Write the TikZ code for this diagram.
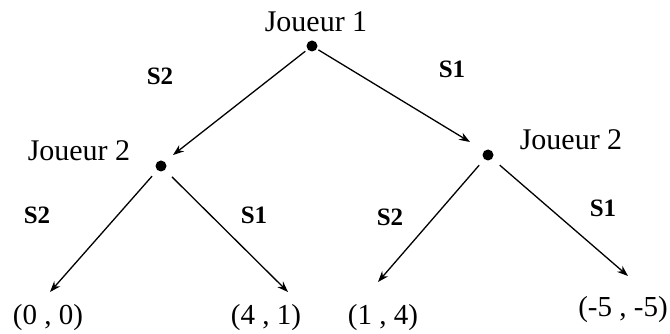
\documentclass[tikz,border=0pt]{standalone}
\usepackage{fontspec}
\setmainfont{Liberation Serif}
\usetikzlibrary{arrows.meta}
\begin{document}
\begin{tikzpicture}[x=1pt,y=-1pt,
  dot/.style={circle,fill=black,inner sep=0pt,minimum size=11pt,outer sep=0pt},
  player/.style={inner sep=0pt,font=\fontsize{30}{34}\selectfont},
  payoff/.style={inner sep=0pt,font=\fontsize{29}{33}\selectfont},
  strat/.style={inner sep=0pt,font=\fontsize{25}{29}\selectfont\bfseries},
  arr/.style={line width=1.3pt,-{Stealth[length=11pt,width=8pt]}}]
\useasboundingbox (0,0) rectangle (670,334);
% players
\node[dot] (r) at (312,46) {};
\node[dot] (a) at (161,166) {};
\node[dot] (b) at (488,155) {};
\node[player] (j1) at (316,22) {Joueur 1};
\node[player] (j2a) at (79,151) {Joueur 2};
\node[player] (j2b) at (571,140) {Joueur 2};
% payoffs
\node[payoff] (p1) at (48,318) {(0 , 0)};
\node[payoff] (p2) at (266,318) {(4 , 1)};
\node[payoff] (p3) at (383,318) {(1 , 4)};
\node[payoff] (p4) at (623,310) {(-5 , -5)};
% arrow tips
\coordinate (ta) at (173,155);
\coordinate (tb) at (470,142);
\coordinate (t1) at (50,292);
\coordinate (t2) at (288,292);
\coordinate (t3) at (378,282);
\coordinate (t4) at (628,276);
% connectors
\draw[arr,shorten <=3pt] (r) -- (ta);
\draw[arr,shorten <=2pt] (r) -- (tb);
\draw[arr,shorten <=8pt] (a) -- (t1);
\draw[arr,shorten <=10pt] (a) -- (t2);
\draw[arr,shorten <=8pt] (b) -- (t3);
\draw[arr,shorten <=10pt] (b) -- (t4);
% strategy labels
\node[strat] (s1) at (160,76) {S2};
\node[strat] (s2) at (452,69) {S1};
\node[strat] (s3) at (37,215) {S2};
\node[strat] (s4) at (254,215) {S1};
\node[strat] (s5) at (390,217) {S2};
\node[strat] (s6) at (603,208) {S1};
\end{tikzpicture}
\end{document}
